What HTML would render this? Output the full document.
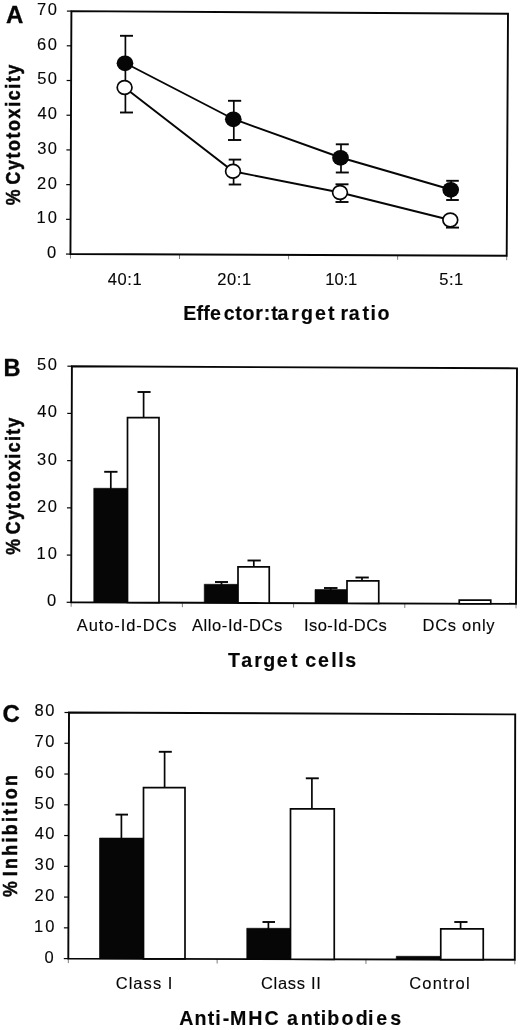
<!DOCTYPE html>
<html lang="en">
<head>
<meta charset="utf-8">
<title>Figure: cytotoxicity and inhibition</title>
<style>
html,body{margin:0;padding:0;background:#fff;}
body{width:520px;height:1030px;overflow:hidden;}
svg{display:block;}
svg text{font-family:'Liberation Sans', Arial, Helvetica, sans-serif;fill:#060606;white-space:pre;}
</style>
</head>
<body>
<svg width="520" height="1030" viewBox="0 0 520 1030">
<rect x="0" y="0" width="520" height="1030" fill="#fff"/>
<polygon points="71.40,11.10 508.00,13.80 506.70,255.70 70.45,254.05" fill="none" stroke="#060606" stroke-width="1.9" stroke-linejoin="miter"/>
<line x1="65.95" y1="254.05" x2="70.45" y2="254.05" stroke="#060606" stroke-width="1.2" stroke-linecap="butt"/>
<text transform="translate(47.02 257.95) scale(1.0 1)" font-size="16.5" font-weight="400" text-anchor="start" stroke="#060606" stroke-width="0.12">0</text>
<line x1="66.09" y1="219.34" x2="70.59" y2="219.34" stroke="#060606" stroke-width="1.2" stroke-linecap="butt"/>
<text transform="translate(36.56 223.24) scale(1.0 1)" font-size="16.5" font-weight="400" text-anchor="start" stroke="#060606" stroke-width="0.12" letter-spacing="2.0">10</text>
<line x1="66.22" y1="184.64" x2="70.72" y2="184.64" stroke="#060606" stroke-width="1.2" stroke-linecap="butt"/>
<text transform="translate(36.97 188.54) scale(1.0 1)" font-size="16.5" font-weight="400" text-anchor="start" stroke="#060606" stroke-width="0.12" letter-spacing="1.59">20</text>
<line x1="66.36" y1="149.93" x2="70.86" y2="149.93" stroke="#060606" stroke-width="1.2" stroke-linecap="butt"/>
<text transform="translate(37.22 153.83) scale(1.0 1)" font-size="16.5" font-weight="400" text-anchor="start" stroke="#060606" stroke-width="0.12" letter-spacing="1.34">30</text>
<line x1="66.49" y1="115.22" x2="70.99" y2="115.22" stroke="#060606" stroke-width="1.2" stroke-linecap="butt"/>
<text transform="translate(37.47 119.12) scale(1.0 1)" font-size="16.5" font-weight="400" text-anchor="start" stroke="#060606" stroke-width="0.12" letter-spacing="1.09">40</text>
<line x1="66.63" y1="80.51" x2="71.13" y2="80.51" stroke="#060606" stroke-width="1.2" stroke-linecap="butt"/>
<text transform="translate(37.14 84.41) scale(1.0 1)" font-size="16.5" font-weight="400" text-anchor="start" stroke="#060606" stroke-width="0.12" letter-spacing="1.42">50</text>
<line x1="66.76" y1="45.81" x2="71.26" y2="45.81" stroke="#060606" stroke-width="1.2" stroke-linecap="butt"/>
<text transform="translate(36.97 49.71) scale(1.0 1)" font-size="16.5" font-weight="400" text-anchor="start" stroke="#060606" stroke-width="0.12" letter-spacing="1.59">60</text>
<line x1="66.90" y1="11.10" x2="71.40" y2="11.10" stroke="#060606" stroke-width="1.2" stroke-linecap="butt"/>
<text transform="translate(36.97 15.00) scale(1.0 1)" font-size="16.5" font-weight="400" text-anchor="start" stroke="#060606" stroke-width="0.12" letter-spacing="1.59">70</text>
<line x1="70.45" y1="254.05" x2="70.45" y2="258.55" stroke="#060606" stroke-width="0.8" stroke-linecap="butt" stroke-opacity="0.65"/>
<line x1="179.51" y1="254.46" x2="179.51" y2="258.96" stroke="#060606" stroke-width="0.8" stroke-linecap="butt" stroke-opacity="0.65"/>
<line x1="288.57" y1="254.88" x2="288.57" y2="259.38" stroke="#060606" stroke-width="0.8" stroke-linecap="butt" stroke-opacity="0.65"/>
<line x1="397.64" y1="255.29" x2="397.64" y2="259.79" stroke="#060606" stroke-width="0.8" stroke-linecap="butt" stroke-opacity="0.65"/>
<line x1="506.70" y1="255.70" x2="506.70" y2="260.20" stroke="#060606" stroke-width="0.8" stroke-linecap="butt" stroke-opacity="0.65"/>
<text transform="translate(6.00 22.50) scale(1.0 1)" font-size="24" font-weight="700" text-anchor="start" stroke="#060606" stroke-width="0.3">A</text>
<text transform="translate(19.60 204.90) rotate(-90) scale(1 1.14)" font-size="17.8" font-weight="700" stroke="#060606" stroke-width="0.45"><tspan x="-0.36" letter-spacing="0">% </tspan><tspan x="20.29" letter-spacing="1.65">Cytotoxicity</tspan></text>
<text transform="translate(107.87 284.60) scale(1.0 1)" font-size="16.5" font-weight="400" text-anchor="start" stroke="#060606" stroke-width="0.12" letter-spacing="0.53">40:1</text>
<text transform="translate(217.18 284.60) scale(1.0 1)" font-size="16.5" font-weight="400" text-anchor="start" stroke="#060606" stroke-width="0.12" letter-spacing="0.59">20:1</text>
<text transform="translate(325.26 284.60) scale(1.0 1)" font-size="16.5" font-weight="400" text-anchor="start" stroke="#060606" stroke-width="0.12" letter-spacing="-0.04">10:1</text>
<text transform="translate(439.34 284.60) scale(1.0 1)" font-size="16.5" font-weight="400" text-anchor="start" stroke="#060606" stroke-width="0.12" letter-spacing="0.48">5:1</text>
<text transform="translate(184.40 320.30) scale(1.0 1)" font-size="19.6" font-weight="700" stroke="#060606" stroke-width="0.15"><tspan x="-1.27" letter-spacing="0.27">Effe</tspan><tspan x="39.31" letter-spacing="0.68">ctor</tspan><tspan x="79.34" letter-spacing="0">:</tspan><tspan x="86.80" letter-spacing="-0.34">ta</tspan><tspan x="106.83" letter-spacing="2.11">rget </tspan><tspan x="156.23" letter-spacing="0.46">ra</tspan><tspan x="178.10" letter-spacing="1.48">tio</tspan></text>
<line x1="125.40" y1="87.50" x2="125.40" y2="35.80" stroke="#060606" stroke-width="1.7" stroke-linecap="butt"/>
<line x1="120.00" y1="35.80" x2="133.00" y2="35.80" stroke="#060606" stroke-width="1.9" stroke-linecap="butt"/>
<line x1="233.80" y1="119.00" x2="233.80" y2="100.80" stroke="#060606" stroke-width="1.7" stroke-linecap="butt"/>
<line x1="228.00" y1="100.80" x2="241.20" y2="100.80" stroke="#060606" stroke-width="1.9" stroke-linecap="butt"/>
<line x1="233.80" y1="119.00" x2="233.80" y2="140.00" stroke="#060606" stroke-width="1.7" stroke-linecap="butt"/>
<line x1="228.00" y1="140.00" x2="241.20" y2="140.00" stroke="#060606" stroke-width="1.9" stroke-linecap="butt"/>
<line x1="341.00" y1="157.50" x2="341.00" y2="144.30" stroke="#060606" stroke-width="1.7" stroke-linecap="butt"/>
<line x1="335.80" y1="144.30" x2="348.80" y2="144.30" stroke="#060606" stroke-width="1.9" stroke-linecap="butt"/>
<line x1="341.00" y1="157.50" x2="341.00" y2="172.50" stroke="#060606" stroke-width="1.7" stroke-linecap="butt"/>
<line x1="335.80" y1="172.50" x2="348.80" y2="172.50" stroke="#060606" stroke-width="1.9" stroke-linecap="butt"/>
<line x1="451.20" y1="189.50" x2="451.20" y2="180.80" stroke="#060606" stroke-width="1.7" stroke-linecap="butt"/>
<line x1="446.20" y1="180.80" x2="458.80" y2="180.80" stroke="#060606" stroke-width="1.9" stroke-linecap="butt"/>
<line x1="451.20" y1="189.50" x2="451.20" y2="200.00" stroke="#060606" stroke-width="1.7" stroke-linecap="butt"/>
<line x1="446.20" y1="200.00" x2="458.80" y2="200.00" stroke="#060606" stroke-width="1.9" stroke-linecap="butt"/>
<line x1="125.40" y1="87.50" x2="125.40" y2="112.50" stroke="#060606" stroke-width="1.7" stroke-linecap="butt"/>
<line x1="120.00" y1="112.50" x2="133.00" y2="112.50" stroke="#060606" stroke-width="1.9" stroke-linecap="butt"/>
<line x1="233.60" y1="171.30" x2="233.60" y2="159.60" stroke="#060606" stroke-width="1.7" stroke-linecap="butt"/>
<line x1="228.70" y1="159.60" x2="241.20" y2="159.60" stroke="#060606" stroke-width="1.9" stroke-linecap="butt"/>
<line x1="233.60" y1="171.30" x2="233.60" y2="184.50" stroke="#060606" stroke-width="1.7" stroke-linecap="butt"/>
<line x1="228.70" y1="184.50" x2="241.20" y2="184.50" stroke="#060606" stroke-width="1.9" stroke-linecap="butt"/>
<line x1="340.60" y1="192.50" x2="340.60" y2="184.30" stroke="#060606" stroke-width="1.7" stroke-linecap="butt"/>
<line x1="335.50" y1="184.30" x2="348.50" y2="184.30" stroke="#060606" stroke-width="1.9" stroke-linecap="butt"/>
<line x1="340.60" y1="192.50" x2="340.60" y2="202.00" stroke="#060606" stroke-width="1.7" stroke-linecap="butt"/>
<line x1="335.50" y1="202.00" x2="348.50" y2="202.00" stroke="#060606" stroke-width="1.9" stroke-linecap="butt"/>
<line x1="450.80" y1="220.00" x2="450.80" y2="227.60" stroke="#060606" stroke-width="1.7" stroke-linecap="butt"/>
<line x1="446.00" y1="227.60" x2="459.00" y2="227.60" stroke="#060606" stroke-width="1.9" stroke-linecap="butt"/>
<polyline points="125,63 233.3,119 340.5,157.5 450.7,189.5" fill="none" stroke="#060606" stroke-width="1.9"/>
<polyline points="124.6,87.5 233,171.3 340,192.5 450.3,220" fill="none" stroke="#060606" stroke-width="1.9"/>
<ellipse cx="124.6" cy="87.5" rx="7.4" ry="6.85" fill="#fff" stroke="#060606" stroke-width="1.7"/>
<ellipse cx="233" cy="171.3" rx="7.4" ry="6.85" fill="#fff" stroke="#060606" stroke-width="1.7"/>
<ellipse cx="340" cy="192.5" rx="7.4" ry="6.85" fill="#fff" stroke="#060606" stroke-width="1.7"/>
<ellipse cx="450.3" cy="220" rx="7.4" ry="6.85" fill="#fff" stroke="#060606" stroke-width="1.7"/>
<ellipse cx="125" cy="63.3" rx="8.35" ry="7.85" fill="#060606"/>
<ellipse cx="233.3" cy="119.3" rx="8.35" ry="7.85" fill="#060606"/>
<ellipse cx="340.5" cy="157.8" rx="8.35" ry="7.85" fill="#060606"/>
<ellipse cx="450.7" cy="189.8" rx="8.35" ry="7.85" fill="#060606"/>
<polygon points="71.90,366.20 517.00,368.35 516.00,603.85 71.15,602.30" fill="none" stroke="#060606" stroke-width="1.9" stroke-linejoin="miter"/>
<line x1="66.65" y1="602.30" x2="71.15" y2="602.30" stroke="#060606" stroke-width="1.2" stroke-linecap="butt"/>
<text transform="translate(46.92 606.20) scale(1.0 1)" font-size="16.5" font-weight="400" text-anchor="start" stroke="#060606" stroke-width="0.12">0</text>
<line x1="66.80" y1="555.08" x2="71.30" y2="555.08" stroke="#060606" stroke-width="1.2" stroke-linecap="butt"/>
<text transform="translate(36.46 558.98) scale(1.0 1)" font-size="16.5" font-weight="400" text-anchor="start" stroke="#060606" stroke-width="0.12" letter-spacing="2.0">10</text>
<line x1="66.95" y1="507.86" x2="71.45" y2="507.86" stroke="#060606" stroke-width="1.2" stroke-linecap="butt"/>
<text transform="translate(36.88 511.76) scale(1.0 1)" font-size="16.5" font-weight="400" text-anchor="start" stroke="#060606" stroke-width="0.12" letter-spacing="1.59">20</text>
<line x1="67.10" y1="460.64" x2="71.60" y2="460.64" stroke="#060606" stroke-width="1.2" stroke-linecap="butt"/>
<text transform="translate(37.12 464.54) scale(1.0 1)" font-size="16.5" font-weight="400" text-anchor="start" stroke="#060606" stroke-width="0.12" letter-spacing="1.34">30</text>
<line x1="67.25" y1="413.42" x2="71.75" y2="413.42" stroke="#060606" stroke-width="1.2" stroke-linecap="butt"/>
<text transform="translate(37.37 417.32) scale(1.0 1)" font-size="16.5" font-weight="400" text-anchor="start" stroke="#060606" stroke-width="0.12" letter-spacing="1.09">40</text>
<line x1="67.40" y1="366.20" x2="71.90" y2="366.20" stroke="#060606" stroke-width="1.2" stroke-linecap="butt"/>
<text transform="translate(37.04 370.10) scale(1.0 1)" font-size="16.5" font-weight="400" text-anchor="start" stroke="#060606" stroke-width="0.12" letter-spacing="1.42">50</text>
<line x1="71.15" y1="602.30" x2="71.15" y2="606.80" stroke="#060606" stroke-width="0.8" stroke-linecap="butt" stroke-opacity="0.65"/>
<line x1="182.36" y1="602.69" x2="182.36" y2="607.19" stroke="#060606" stroke-width="0.8" stroke-linecap="butt" stroke-opacity="0.65"/>
<line x1="293.58" y1="603.08" x2="293.58" y2="607.58" stroke="#060606" stroke-width="0.8" stroke-linecap="butt" stroke-opacity="0.65"/>
<line x1="404.79" y1="603.46" x2="404.79" y2="607.96" stroke="#060606" stroke-width="0.8" stroke-linecap="butt" stroke-opacity="0.65"/>
<line x1="516.00" y1="603.85" x2="516.00" y2="608.35" stroke="#060606" stroke-width="0.8" stroke-linecap="butt" stroke-opacity="0.65"/>
<text transform="translate(3.47 376.30) scale(1.0 1)" font-size="23.6" font-weight="700" text-anchor="start" stroke="#060606" stroke-width="0.3">B</text>
<text transform="translate(19.60 554.40) rotate(-90) scale(1 1.14)" font-size="17.8" font-weight="700" stroke="#060606" stroke-width="0.45"><tspan x="-0.36" letter-spacing="0">% </tspan><tspan x="20.09" letter-spacing="1.35">Cytotoxicity</tspan></text>
<text transform="translate(76.80 630.80) scale(1.0 1)" font-size="16.5" font-weight="400" text-anchor="start" stroke="#060606" stroke-width="0.12" letter-spacing="0.9">Auto-Id-DCs</text>
<text transform="translate(192.00 630.80) scale(1.0 1)" font-size="16.5" font-weight="400" text-anchor="start" stroke="#060606" stroke-width="0.12" letter-spacing="0.58">Allo-Id-DCs</text>
<text transform="translate(304.01 630.80) scale(1.0 1)" font-size="16.5" font-weight="400" text-anchor="start" stroke="#060606" stroke-width="0.12" letter-spacing="0.44">Iso-Id-DCs</text>
<text transform="translate(422.48 630.80) scale(1.0 1)" font-size="16.5" font-weight="400" text-anchor="start" stroke="#060606" stroke-width="0.12" letter-spacing="0.73">DCs only</text>
<text transform="translate(228.30 667.20) scale(1.0 1)" font-size="19.6" font-weight="700" stroke="#060606" stroke-width="0.15"><tspan x="-0.20" letter-spacing="2.54">Ta</tspan><tspan x="25.93" letter-spacing="1.49">rge</tspan><tspan x="62.70" letter-spacing="0">t </tspan><tspan x="77.01" letter-spacing="1.92">ce</tspan><tspan x="102.93" letter-spacing="1.6">lls</tspan></text>
<line x1="110.80" y1="489.00" x2="110.80" y2="471.80" stroke="#060606" stroke-width="1.7" stroke-linecap="butt"/>
<line x1="104.20" y1="471.80" x2="117.50" y2="471.80" stroke="#060606" stroke-width="1.9" stroke-linecap="butt"/>
<line x1="143.60" y1="418.00" x2="143.60" y2="392.00" stroke="#060606" stroke-width="1.7" stroke-linecap="butt"/>
<line x1="137.50" y1="392.00" x2="150.60" y2="392.00" stroke="#060606" stroke-width="1.9" stroke-linecap="butt"/>
<line x1="221.50" y1="585.00" x2="221.50" y2="582.00" stroke="#060606" stroke-width="1.7" stroke-linecap="butt"/>
<line x1="215.00" y1="582.00" x2="228.00" y2="582.00" stroke="#060606" stroke-width="1.9" stroke-linecap="butt"/>
<line x1="253.80" y1="567.00" x2="253.80" y2="560.50" stroke="#060606" stroke-width="1.7" stroke-linecap="butt"/>
<line x1="247.50" y1="560.50" x2="260.80" y2="560.50" stroke="#060606" stroke-width="1.9" stroke-linecap="butt"/>
<line x1="330.70" y1="590.00" x2="330.70" y2="588.00" stroke="#060606" stroke-width="1.7" stroke-linecap="butt"/>
<line x1="324.00" y1="588.00" x2="337.50" y2="588.00" stroke="#060606" stroke-width="1.9" stroke-linecap="butt"/>
<line x1="362.00" y1="581.00" x2="362.00" y2="577.50" stroke="#060606" stroke-width="1.7" stroke-linecap="butt"/>
<line x1="355.50" y1="577.50" x2="368.80" y2="577.50" stroke="#060606" stroke-width="1.9" stroke-linecap="butt"/>
<polygon points="93.75,488.25 127.50,488.37 127.50,602.50 93.75,602.38" fill="#060606" stroke="#060606" stroke-width="0.6"/>
<polygon points="127.50,417.50 159.00,417.61 159.00,602.61 127.50,602.50" fill="#fff" stroke="#060606" stroke-width="1.7"/>
<polygon points="204.25,584.25 238.00,584.37 238.00,602.88 204.25,602.76" fill="#060606" stroke="#060606" stroke-width="0.6"/>
<polygon points="238.00,566.75 269.25,566.86 269.25,602.99 238.00,602.88" fill="#fff" stroke="#060606" stroke-width="1.7"/>
<polygon points="315.00,589.50 347.00,589.61 347.00,603.26 315.00,603.15" fill="#060606" stroke="#060606" stroke-width="0.6"/>
<polygon points="347.00,580.75 378.75,580.86 378.75,603.37 347.00,603.26" fill="#fff" stroke="#060606" stroke-width="1.7"/>
<polygon points="459.25,600.00 490.75,600.11 490.75,603.76 459.25,603.65" fill="#fff" stroke="#060606" stroke-width="1.7"/>
<polygon points="69.00,712.50 515.20,714.40 514.80,959.80 68.30,958.60" fill="none" stroke="#060606" stroke-width="1.9" stroke-linejoin="miter"/>
<line x1="63.80" y1="958.60" x2="68.30" y2="958.60" stroke="#060606" stroke-width="1.2" stroke-linecap="butt"/>
<text transform="translate(44.42 962.50) scale(1.0 1)" font-size="16.5" font-weight="400" text-anchor="start" stroke="#060606" stroke-width="0.12">0</text>
<line x1="63.89" y1="927.84" x2="68.39" y2="927.84" stroke="#060606" stroke-width="1.2" stroke-linecap="butt"/>
<text transform="translate(33.96 931.74) scale(1.0 1)" font-size="16.5" font-weight="400" text-anchor="start" stroke="#060606" stroke-width="0.12" letter-spacing="2.0">10</text>
<line x1="63.97" y1="897.08" x2="68.47" y2="897.08" stroke="#060606" stroke-width="1.2" stroke-linecap="butt"/>
<text transform="translate(34.38 900.98) scale(1.0 1)" font-size="16.5" font-weight="400" text-anchor="start" stroke="#060606" stroke-width="0.12" letter-spacing="1.59">20</text>
<line x1="64.06" y1="866.31" x2="68.56" y2="866.31" stroke="#060606" stroke-width="1.2" stroke-linecap="butt"/>
<text transform="translate(34.62 870.21) scale(1.0 1)" font-size="16.5" font-weight="400" text-anchor="start" stroke="#060606" stroke-width="0.12" letter-spacing="1.34">30</text>
<line x1="64.15" y1="835.55" x2="68.65" y2="835.55" stroke="#060606" stroke-width="1.2" stroke-linecap="butt"/>
<text transform="translate(34.87 839.45) scale(1.0 1)" font-size="16.5" font-weight="400" text-anchor="start" stroke="#060606" stroke-width="0.12" letter-spacing="1.09">40</text>
<line x1="64.24" y1="804.79" x2="68.74" y2="804.79" stroke="#060606" stroke-width="1.2" stroke-linecap="butt"/>
<text transform="translate(34.54 808.69) scale(1.0 1)" font-size="16.5" font-weight="400" text-anchor="start" stroke="#060606" stroke-width="0.12" letter-spacing="1.42">50</text>
<line x1="64.33" y1="774.02" x2="68.83" y2="774.02" stroke="#060606" stroke-width="1.2" stroke-linecap="butt"/>
<text transform="translate(34.38 777.92) scale(1.0 1)" font-size="16.5" font-weight="400" text-anchor="start" stroke="#060606" stroke-width="0.12" letter-spacing="1.59">60</text>
<line x1="64.41" y1="743.26" x2="68.91" y2="743.26" stroke="#060606" stroke-width="1.2" stroke-linecap="butt"/>
<text transform="translate(34.38 747.16) scale(1.0 1)" font-size="16.5" font-weight="400" text-anchor="start" stroke="#060606" stroke-width="0.12" letter-spacing="1.59">70</text>
<line x1="64.50" y1="712.50" x2="69.00" y2="712.50" stroke="#060606" stroke-width="1.2" stroke-linecap="butt"/>
<text transform="translate(34.54 716.40) scale(1.0 1)" font-size="16.5" font-weight="400" text-anchor="start" stroke="#060606" stroke-width="0.12" letter-spacing="1.42">80</text>
<line x1="68.30" y1="958.60" x2="68.30" y2="963.10" stroke="#060606" stroke-width="0.8" stroke-linecap="butt" stroke-opacity="0.65"/>
<line x1="217.13" y1="959.00" x2="217.13" y2="963.50" stroke="#060606" stroke-width="0.8" stroke-linecap="butt" stroke-opacity="0.65"/>
<line x1="365.97" y1="959.40" x2="365.97" y2="963.90" stroke="#060606" stroke-width="0.8" stroke-linecap="butt" stroke-opacity="0.65"/>
<line x1="514.80" y1="959.80" x2="514.80" y2="964.30" stroke="#060606" stroke-width="0.8" stroke-linecap="butt" stroke-opacity="0.65"/>
<text transform="translate(2.54 721.90) scale(1.0 1)" font-size="24" font-weight="700" text-anchor="start" stroke="#060606" stroke-width="0.3">C</text>
<text transform="translate(17.20 896.70) rotate(-90) scale(1 1.14)" font-size="17.8" font-weight="700" stroke="#060606" stroke-width="0.45"><tspan x="-0.36" letter-spacing="0">% </tspan><tspan x="20.54" letter-spacing="2.32">Inhibition</tspan></text>
<text transform="translate(115.67 989.20) scale(1.0 1)" font-size="16.5" font-weight="400" text-anchor="start" stroke="#060606" stroke-width="0.12" letter-spacing="1.05">Class I</text>
<text transform="translate(260.98 989.20) scale(1.0 1)" font-size="16.5" font-weight="400" text-anchor="start" stroke="#060606" stroke-width="0.12" letter-spacing="0.68">Class II</text>
<text transform="translate(409.18 989.20) scale(1.0 1)" font-size="16.5" font-weight="400" text-anchor="start" stroke="#060606" stroke-width="0.12" letter-spacing="1.2">Control</text>
<text transform="translate(179.80 1025.00) scale(1.0 1)" font-size="19.6" font-weight="700" stroke="#060606" stroke-width="0.15"><tspan x="-0.49" letter-spacing="1.11">Anti</tspan><tspan x="43.01" letter-spacing="0">-</tspan><tspan x="50.23" letter-spacing="1.99">MHC </tspan><tspan x="107.21" letter-spacing="0">a</tspan><tspan x="120.83" letter-spacing="0.87">nti</tspan><tspan x="147.43" letter-spacing="2.24">bod</tspan><tspan x="188.13" letter-spacing="2.96">ies</tspan></text>
<line x1="121.40" y1="839.00" x2="121.40" y2="814.60" stroke="#060606" stroke-width="1.7" stroke-linecap="butt"/>
<line x1="115.50" y1="814.60" x2="128.00" y2="814.60" stroke="#060606" stroke-width="1.9" stroke-linecap="butt"/>
<line x1="164.60" y1="788.00" x2="164.60" y2="751.80" stroke="#060606" stroke-width="1.7" stroke-linecap="butt"/>
<line x1="158.80" y1="751.80" x2="171.80" y2="751.80" stroke="#060606" stroke-width="1.9" stroke-linecap="butt"/>
<line x1="268.40" y1="929.00" x2="268.40" y2="922.00" stroke="#060606" stroke-width="1.7" stroke-linecap="butt"/>
<line x1="262.50" y1="922.00" x2="275.00" y2="922.00" stroke="#060606" stroke-width="1.9" stroke-linecap="butt"/>
<line x1="311.90" y1="809.00" x2="311.90" y2="778.30" stroke="#060606" stroke-width="1.7" stroke-linecap="butt"/>
<line x1="305.80" y1="778.30" x2="318.80" y2="778.30" stroke="#060606" stroke-width="1.9" stroke-linecap="butt"/>
<line x1="460.60" y1="929.00" x2="460.60" y2="922.00" stroke="#060606" stroke-width="1.7" stroke-linecap="butt"/>
<line x1="454.30" y1="922.00" x2="467.50" y2="922.00" stroke="#060606" stroke-width="1.9" stroke-linecap="butt"/>
<polygon points="99.50,838.00 143.50,838.12 143.50,958.80 99.50,958.68" fill="#060606" stroke="#060606" stroke-width="0.6"/>
<polygon points="143.50,787.50 185.00,787.61 185.00,958.91 143.50,958.80" fill="#fff" stroke="#060606" stroke-width="1.7"/>
<polygon points="246.75,928.25 290.50,928.37 290.50,959.20 246.75,959.08" fill="#060606" stroke="#060606" stroke-width="0.6"/>
<polygon points="290.50,808.75 334.25,808.87 334.25,959.31 290.50,959.20" fill="#fff" stroke="#060606" stroke-width="1.7"/>
<polygon points="396.25,956.25 440.75,956.37 440.75,959.60 396.25,959.48" fill="#060606" stroke="#060606" stroke-width="0.6"/>
<polygon points="440.75,928.75 483.25,928.86 483.25,959.72 440.75,959.60" fill="#fff" stroke="#060606" stroke-width="1.7"/>
</svg>
</body>
</html>
